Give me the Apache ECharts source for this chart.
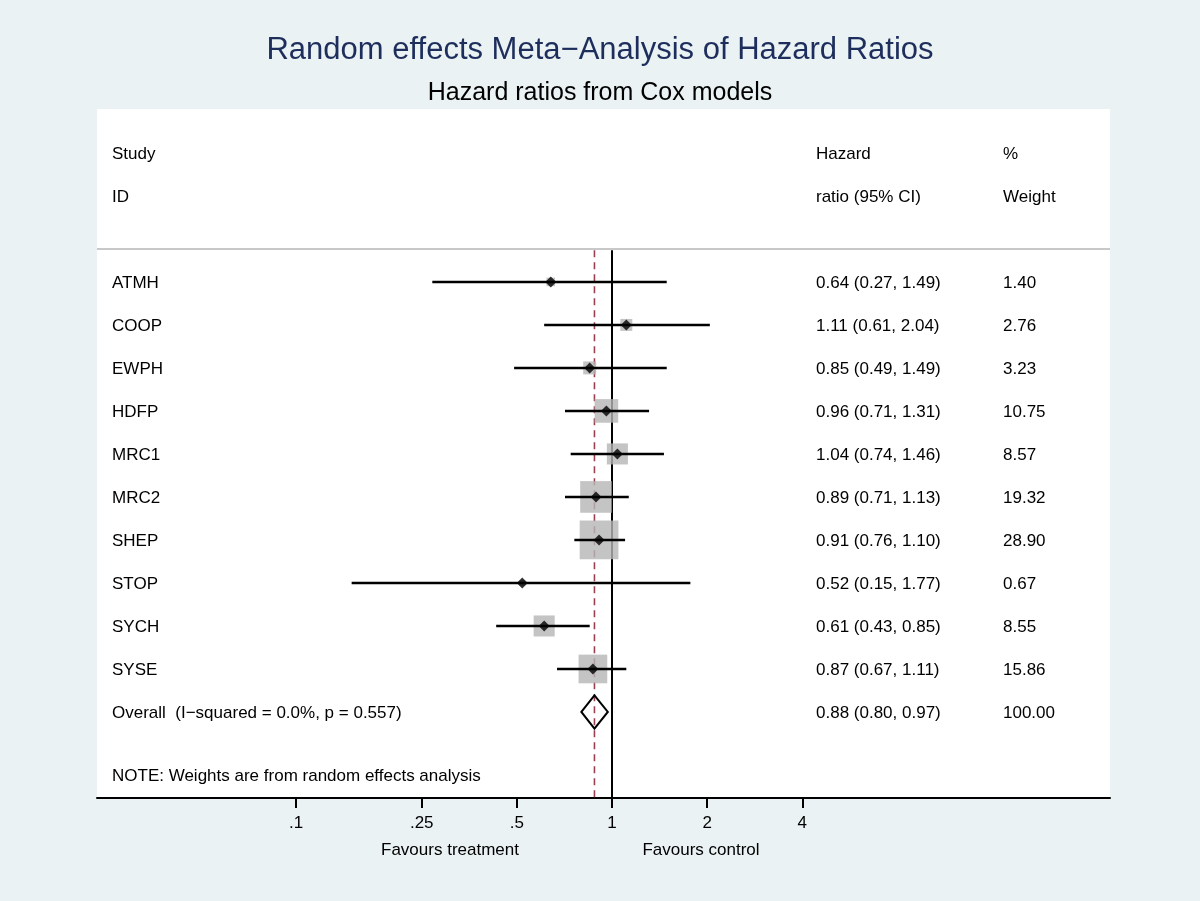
<!DOCTYPE html>
<html>
<head>
<meta charset="utf-8">
<script src="https://cdn.jsdelivr.net/npm/echarts@6/dist/echarts.min.js"></script>
<style>
html,body{margin:0;padding:0;background:#EAF2F3;}
#chart{width:1200px;height:901px;}
</style>
</head>
<body>
<div id="chart"></div>
<script>
// ---- data ----
const studies = ['ATMH','COOP','EWPH','HDFP','MRC1','MRC2','SHEP','STOP','SYCH','SYSE'];
const hazardRatios = [0.64,1.11,0.85,0.96,1.04,0.89,0.91,0.52,0.61,0.87];
const ciLow  = [0.27,0.61,0.49,0.71,0.74,0.71,0.76,0.15,0.43,0.67];
const ciHigh = [1.49,2.04,1.49,1.31,1.46,1.13,1.10,1.77,0.85,1.11];
const weights = [1.40,2.76,3.23,10.75,8.57,19.32,28.90,0.67,8.55,15.86];
const overallLabel = 'Overall  (I\u2212squared = 0.0%, p = 0.557)';
const overallHR = 0.88;
const overallLow = 0.80;
const overallHigh = 0.97;
const overallWeight = 100.00;
const tickValues = [0.1,0.25,0.5,1,2,4];
const tickLabels = ['.1','.25','.5','1','2','4'];
const noteText = 'NOTE: Weights are from random effects analysis';

// ---- layout constants ----
const FONT = '"Liberation Sans", Arial, Helvetica, sans-serif';
const FS = 17;
const COL1 = 112, COL2 = 816, COL3 = 1003;
const TEXT_DY = 1.5;
const L = Math.log10;
const overallRow = studies.length;
const noteRow = 11.47;
const headerLineRow = -0.767;
const xMin = -1.6297, xMax = 1.5759;

const chart = echarts.init(document.getElementById('chart'), null, {renderer:'canvas'});

function textEl(x, y, t){
  return {type:'text', x:x, y:y + TEXT_DY, style:{text:t, fill:'#000', font: FS + 'px ' + FONT, align:'left', verticalAlign:'middle'}};
}

const rowTexts = studies.map((s,i)=>[s,
  hazardRatios[i].toFixed(2)+' ('+ciLow[i].toFixed(2)+', '+ciHigh[i].toFixed(2)+')',
  weights[i].toFixed(2)]);
rowTexts.push([overallLabel,
  overallHR.toFixed(2)+' ('+overallLow.toFixed(2)+', '+overallHigh.toFixed(2)+')',
  overallWeight.toFixed(2)]);

const option = {
  backgroundColor:'#EAF2F3',
  animation:false,
  title:[
    {text:'Random effects Meta\u2212Analysis of Hazard Ratios', left:'center', top:30,
     textStyle:{fontFamily:FONT, fontSize:31, fontWeight:'normal', color:'#1E2E5C'}},
    {text:'Hazard ratios from Cox models', left:'center', top:76,
     textStyle:{fontFamily:FONT, fontSize:25, fontWeight:'normal', color:'#000'}}
  ],
  grid:{left:97, right:90, top:109, bottom:103, show:true, backgroundColor:'#fff', borderWidth:0},
  xAxis:{
    type:'value', min:xMin, max:xMax,
    splitLine:{show:false},
    axisLine:{show:true, onZero:false, lineStyle:{color:'#000', width:2}},
    axisTick:{show:true, customValues: tickValues.map(L), length:10, lineStyle:{color:'#000', width:2}},
    axisLabel:{show:true, customValues: tickValues.map(L), margin:17, color:'#000', fontFamily:FONT, fontSize:FS,
      formatter:function(v){ for(let i=0;i<tickValues.length;i++){ if(Math.abs(L(tickValues[i])-v)<1e-6) return tickLabels[i]; } return ''; }}
  },
  yAxis:{type:'value', inverse:true, min:-4.02, max:12, show:false, splitLine:{show:false}},
  graphic:[
    {type:'text', x:450, y:850, style:{text:'Favours treatment', fill:'#000', font:FS+'px '+FONT, align:'center', verticalAlign:'middle'}},
    {type:'text', x:701, y:850, style:{text:'Favours control', fill:'#000', font:FS+'px '+FONT, align:'center', verticalAlign:'middle'}}
  ],
  series:[
    // header separator line
    {type:'line', data:[[xMin,headerLineRow],[xMax,headerLineRow]], symbol:'none', silent:true,
     lineStyle:{color:'#C8C8C8', width:2}, z:1},
    // null line at HR = 1
    {type:'line', data:[[0,headerLineRow+0.03],[0,12]], symbol:'none', silent:true,
     lineStyle:{color:'#000', width:2}, z:2},
    // overall estimate dashed line
    {type:'line', data:[[L(overallHR),headerLineRow+0.03],[L(overallHR),12]], symbol:'none', silent:true,
     lineStyle:{color:'#9A4050', width:1.6, type:[7,5]}, z:2},
    // weight squares
    {type:'scatter', data: hazardRatios.map((v,i)=>[L(v), i]), symbol:'rect',
     symbolSize:function(val, p){ return 7.2*Math.sqrt(weights[p.dataIndex]); },
     itemStyle:{color:'#B5B5B5'}, z:3, silent:true},
    // CI lines
    {type:'custom', z:4, silent:true, clip:false,
     data: hazardRatios.map((v,i)=>[L(ciLow[i]), L(ciHigh[i]), i]),
     encode:{x:[0,1], y:2},
     renderItem:function(params, api){
       const a = api.coord([api.value(0), api.value(2)]);
       const b = api.coord([api.value(1), api.value(2)]);
       return {type:'line', shape:{x1:a[0], y1:a[1], x2:b[0], y2:b[1]}, style:{stroke:'#000', lineWidth:2.5}};
     }},
    // point estimates
    {type:'scatter', data: hazardRatios.map((v,i)=>[L(v), i]), symbol:'diamond', symbolSize:[11,11],
     itemStyle:{color:'#000'}, z:5, silent:true},
    // overall diamond
    {type:'custom', z:5, silent:true, clip:false,
     data:[[L(overallLow), L(overallHR), L(overallHigh), overallRow]],
     encode:{x:[0,1,2], y:3},
     renderItem:function(params, api){
       const r = api.value(3), h = 0.385;
       const p1 = api.coord([api.value(0), r]);
       const p2 = api.coord([api.value(1), r-h]);
       const p3 = api.coord([api.value(2), r]);
       const p4 = api.coord([api.value(1), r+h]);
       return {type:'polygon', shape:{points:[p1,p2,p3,p4]}, style:{fill:'none', stroke:'#000', lineWidth:2}};
     }},
    // text table
    {type:'custom', z:6, silent:true, clip:false,
     data: rowTexts.map((t,i)=>[0, i]),
     encode:{x:0, y:1},
     renderItem:function(params, api){
       const y = api.coord([0, api.value(1)])[1];
       const t = rowTexts[params.dataIndex];
       return {type:'group', children:[textEl(COL1,y,t[0]), textEl(COL2,y,t[1]), textEl(COL3,y,t[2])]};
     }},
    // headers and note
    {type:'custom', z:6, silent:true, clip:false,
     data:[[0,-3],[0,-2],[0,noteRow]],
     encode:{x:0, y:1},
     renderItem:function(params, api){
       const y = api.coord([0, api.value(1)])[1];
       const i = params.dataIndex;
       if(i===0) return {type:'group', children:[textEl(COL1,y,'Study'), textEl(COL2,y,'Hazard'), textEl(COL3,y,'%')]};
       if(i===1) return {type:'group', children:[textEl(COL1,y,'ID'), textEl(COL2,y,'ratio (95% CI)'), textEl(COL3,y,'Weight')]};
       return textEl(COL1, y, noteText);
     }}
  ]
};
chart.setOption(option);
</script>
</body>
</html>
